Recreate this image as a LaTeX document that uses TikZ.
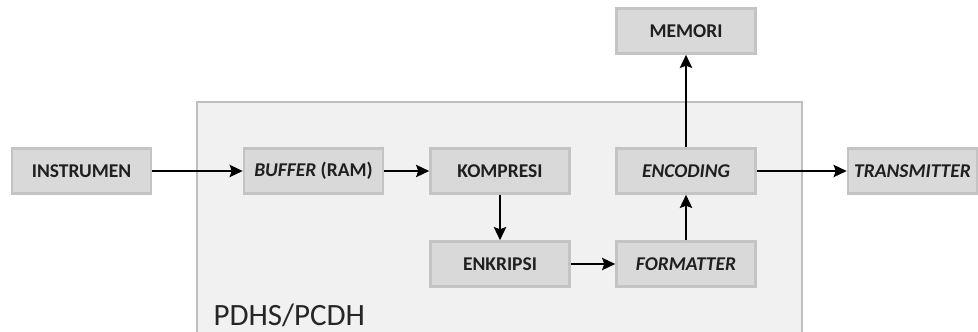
\documentclass[tikz,border=0pt]{standalone}
\usepackage{fontspec}
\setmainfont{Carlito}
\usetikzlibrary{arrows.meta}
\definecolor{boxfill}{HTML}{D9D9D9}
\definecolor{boxline}{HTML}{C4C4C4}
\definecolor{bigfill}{HTML}{F1F1F1}
\definecolor{bigline}{HTML}{BFBFBF}
\tikzset{
  blockbox/.style={draw=boxline, line width=2.5pt, fill=boxfill, minimum width=139pt, minimum height=45pt, inner sep=0pt, font=\fontsize{19.5}{22}\selectfont\bfseries, text=black!88},
  conn/.style={draw=black, line width=2.9pt, -{Stealth[length=13pt,width=12pt,inset=2pt]}}
}
\begin{document}
\begin{tikzpicture}[x=1pt,y=-1pt]
\useasboundingbox (0,0) rectangle (978,332);
\fill[white] (0,0) rectangle (978,332);
\draw[draw=bigline, fill=bigfill, line width=2.2pt] (197,102) rectangle (802,345);
\node[anchor=base west, font=\fontsize{31}{35}\selectfont, text=black!85] (lbl) at (210,325) {PDHS/PCDH};
\node[blockbox] (instr) at (81.5,171) {INSTRUMEN};
\node[blockbox] (buf) at (313.5,171) {\textit{BUFFER} (RAM)};
\node[blockbox] (komp) at (500,171) {KOMPRESI};
\node[blockbox] (enk) at (500,264) {ENKRIPSI};
\node[blockbox] (fmt) at (686,264) {\textit{FORMATTER}};
\node[blockbox] (enc) at (686,171) {\textit{ENCODING}};
\node[blockbox] (mem) at (686,31) {MEMORI};
\node[blockbox, minimum width=129pt] (tx) at (912.5,171) {\textit{TRANSMITTER}};
\draw[conn] (instr) -- (buf);
\draw[conn] (buf) -- (komp);
\draw[conn] (komp) -- (enk);
\draw[conn] (enk) -- (fmt);
\draw[conn] (fmt) -- (enc);
\draw[conn] (enc) -- (mem);
\draw[conn] (enc) -- (tx);
\end{tikzpicture}
\end{document}
